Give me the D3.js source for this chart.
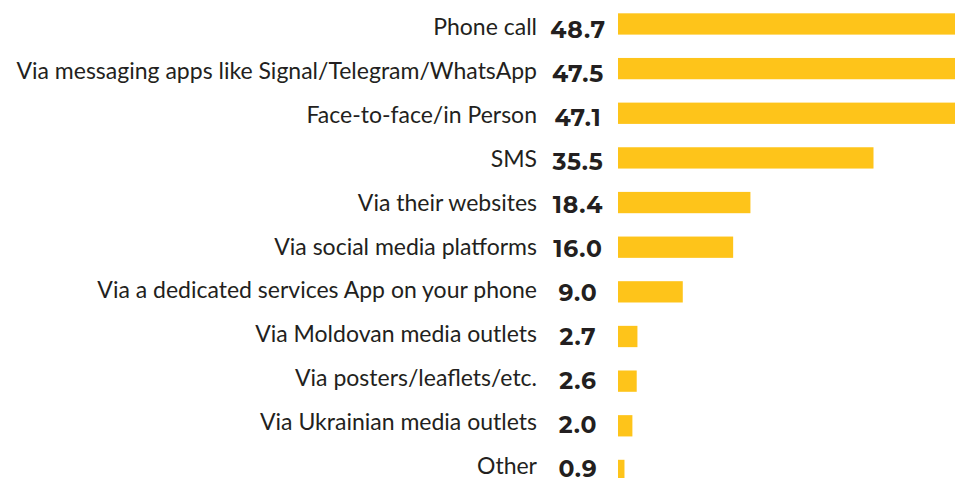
<!DOCTYPE html>
<html>
<head>
<meta charset="utf-8">
<script src="https://cdn.jsdelivr.net/npm/d3@7"></script>
<style>
  body { margin: 0; background: #fff; }
  svg { display: block; }
</style>
</head>
<body>
<script>
// data
const categories = [
  'Phone call',
  'Via messaging apps like Signal/Telegram/WhatsApp',
  'Face-to-face/in Person',
  'SMS',
  'Via their websites',
  'Via social media platforms',
  'Via a dedicated services App on your phone',
  'Via Moldovan media outlets',
  'Via posters/leaflets/etc.',
  'Via Ukrainian media outlets',
  'Other'
]
const values = [48.7, 47.5, 47.1, 35.5, 18.4, 16.0, 9.0, 2.7, 2.6, 2.0, 0.9]

const W = 955, H = 478
const da = categories.map((c, i) => ({ cat: c, val: values[i] }))

const svg = d3.select('body').append('svg')
  .attr('width', W)
  .attr('height', H)

const x = d3.scaleLinear().domain([0, 35.5]).range([618, 873.5])
// bars and text rows are spaced a little differently in the original
const y = d3.scaleBand().domain(categories).range([1.7, 492.7]).paddingInner(0.523).paddingOuter(0.26)
const yText = d3.scalePoint().domain(categories).range([35, 474])

svg.selectAll('rect')
  .data(da)
  .enter()
  .append('rect')
  .attr('x', x(0))
  .attr('y', d => y(d.cat))
  .attr('width', d => x(d.val) - x(0))
  .attr('height', y.bandwidth())
  .attr('fill', '#fec41a')

svg.selectAll('text.label')
  .data(da)
  .enter()
  .append('text')
  .attr('class', 'label')
  .attr('x', 537)
  .attr('y', d => yText(d.cat))
  .attr('text-anchor', 'end')
  .style('font-family', 'Lato, sans-serif')
  .style('font-size', '23px')
  .style('fill', '#231f20')
  .text(d => d.cat)

svg.selectAll('text.value')
  .data(da)
  .enter()
  .append('text')
  .attr('class', 'value')
  .attr('x', 578)
  .attr('y', d => yText(d.cat) + 2.8)
  .attr('text-anchor', 'middle')
  .style('font-family', 'Montserrat, Lato, sans-serif')
  .style('font-weight', 'bold')
  .style('font-size', '23.5px')
  .style('letter-spacing', '0.8px')
  .style('fill', '#231f20')
  .text(d => d.val.toFixed(1))
</script>
</body>
</html>
